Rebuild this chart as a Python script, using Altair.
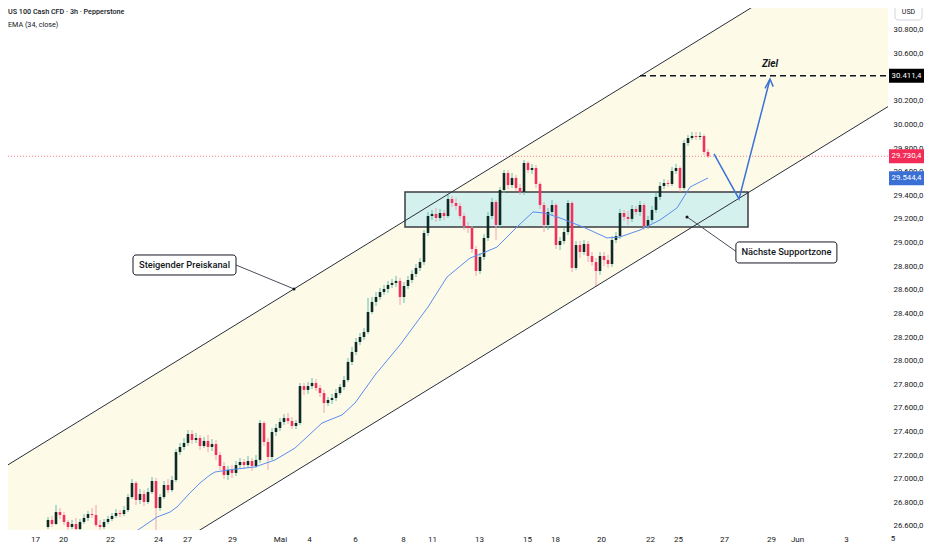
import altair as alt
import pandas as pd

FONT = "Roboto, sans-serif"
INK = "#131722"

# ---------- candles (3h bars, index = bar number) ----------
opens = [26591, 26651, 26617, 26718, 26693, 26634, 26591, 26617, 26574, 26634,
         26668, 26701, 26693, 26608, 26591, 26634, 26659, 26685, 26710, 26701,
         26735, 26845, 26964, 26820, 26871, 26803, 26888, 26981, 26752, 26845,
         26947, 26904, 26989, 27226, 27269, 27303, 27379, 27328, 27345, 27277,
         27320, 27269, 27294, 27201, 27108, 27032, 27074, 27049, 27116, 27142,
         27116, 27150, 27108, 27159, 27472, 27311, 27184, 27396, 27430, 27481,
         27514, 27489, 27447, 27472, 27785, 27752, 27785, 27811, 27768, 27726,
         27641, 27667, 27684, 27726, 27777, 27836, 27989, 28073, 28158, 28200,
         28243, 28412, 28497, 28539, 28581, 28607, 28641, 28658, 28675, 28539,
         28632, 28683, 28734, 28785, 28835, 29081, 29225, 29242, 29208, 29250,
         29225, 29369, 29335, 29310, 29225, 29140, 29123, 28945, 28759, 28878,
         29039, 29225, 29343, 29149, 29445, 29589, 29487, 29547, 29462, 29428,
         29674, 29614, 29631, 29496, 29318, 29149, 29259, 29318, 28979, 29013,
         29089, 29335, 28785, 28979, 28920, 28988, 28886, 28835, 28759, 28886,
         28852, 28818, 29022, 29055, 29250, 29217, 29200, 29284, 29259, 29318,
         29140, 29191, 29276, 29386, 29479, 29504, 29496, 29606, 29631, 29462,
         29843, 29885, 29902, 29894, 29902, 29767]
closes = [26651, 26617, 26718, 26693, 26634, 26591, 26617, 26574, 26634, 26668,
          26701, 26693, 26608, 26591, 26634, 26659, 26685, 26710, 26701, 26735,
          26845, 26964, 26820, 26871, 26803, 26888, 26981, 26752, 26845, 26947,
          26904, 26989, 27226, 27269, 27303, 27379, 27328, 27345, 27277, 27320,
          27269, 27294, 27201, 27108, 27032, 27074, 27049, 27116, 27142, 27116,
          27150, 27108, 27159, 27472, 27311, 27184, 27396, 27430, 27481, 27514,
          27489, 27447, 27472, 27785, 27752, 27785, 27811, 27768, 27726, 27641,
          27667, 27684, 27726, 27777, 27836, 27989, 28073, 28158, 28200, 28243,
          28412, 28497, 28539, 28581, 28607, 28641, 28658, 28675, 28539, 28632,
          28683, 28734, 28785, 28835, 29081, 29225, 29242, 29208, 29250, 29225,
          29369, 29335, 29310, 29225, 29140, 29123, 28945, 28759, 28878, 29039,
          29225, 29343, 29149, 29445, 29589, 29487, 29547, 29462, 29428, 29674,
          29614, 29631, 29496, 29318, 29149, 29259, 29318, 28979, 29013, 29089,
          29335, 28785, 28979, 28920, 28988, 28886, 28835, 28759, 28886, 28852,
          28818, 29022, 29055, 29250, 29217, 29200, 29284, 29259, 29318, 29140,
          29191, 29276, 29386, 29479, 29504, 29496, 29606, 29631, 29462, 29843,
          29885, 29902, 29894, 29902, 29767, 29730]
highs = [26676, 26685, 26778, 26752, 26718, 26651, 26651, 26668, 26659, 26701,
         26727, 26752, 26778, 26651, 26659, 26685, 26710, 26744, 26735, 26769,
         26871, 26998, 26981, 26913, 26904, 26922, 27015, 27006, 26871, 26981,
         26998, 27023, 27252, 27303, 27345, 27413, 27413, 27387, 27371, 27353,
         27371, 27336, 27328, 27226, 27142, 27108, 27116, 27150, 27175, 27167,
         27193, 27175, 27201, 27498, 27489, 27345, 27430, 27464, 27514, 27548,
         27557, 27523, 27498, 27811, 27811, 27819, 27853, 27845, 27794, 27752,
         27692, 27718, 27760, 27802, 27870, 28022, 28116, 28192, 28234, 28277,
         28531, 28539, 28581, 28615, 28641, 28675, 28691, 28717, 28700, 28666,
         28717, 28768, 28818, 28869, 29106, 29259, 29276, 29293, 29284, 29276,
         29403, 29394, 29377, 29335, 29250, 29174, 29140, 28971, 28911, 29072,
         29259, 29377, 29360, 29470, 29614, 29614, 29589, 29572, 29496, 29699,
         29691, 29665, 29657, 29513, 29343, 29293, 29360, 29335, 29047, 29123,
         29360, 29352, 29013, 29013, 29022, 29013, 28920, 28869, 28920, 28920,
         28895, 29055, 29089, 29284, 29276, 29267, 29318, 29310, 29352, 29335,
         29225, 29310, 29420, 29513, 29538, 29530, 29640, 29665, 29648, 29869,
         29911, 29936, 29936, 29936, 29919, 29792]
lows = [26574, 26591, 26608, 26659, 26608, 26566, 26574, 26549, 26557, 26617,
        26642, 26668, 26591, 26566, 26574, 26617, 26642, 26668, 26676, 26685,
        26718, 26828, 26778, 26786, 26769, 26786, 26871, 26566, 26727, 26828,
        26879, 26888, 26972, 27201, 27243, 27277, 27294, 27303, 27243, 27260,
        27226, 27235, 27159, 27074, 26998, 26989, 27006, 27023, 27091, 27083,
        27091, 27066, 27091, 27133, 27277, 27074, 27159, 27362, 27404, 27455,
        27464, 27421, 27421, 27455, 27709, 27718, 27760, 27743, 27692, 27557,
        27616, 27633, 27658, 27709, 27752, 27819, 27963, 28048, 28133, 28175,
        28226, 28395, 28463, 28514, 28556, 28573, 28615, 28624, 28471, 28488,
        28607, 28658, 28708, 28759, 28810, 29055, 29191, 29174, 29183, 29191,
        29208, 29301, 29276, 29200, 29106, 29081, 28911, 28717, 28734, 28852,
        29013, 29200, 29022, 29132, 29420, 29453, 29462, 29437, 29403, 29403,
        29589, 29581, 29462, 29284, 29089, 29106, 29233, 28945, 28937, 28988,
        29064, 28751, 28768, 28869, 28895, 28835, 28802, 28624, 28727, 28802,
        28785, 28793, 28996, 29030, 29183, 29149, 29174, 29233, 29225, 29106,
        29115, 29166, 29250, 29360, 29453, 29470, 29479, 29581, 29428, 29445,
        29818, 29869, 29869, 29869, 29741, 29716]

# ---------- EMA (34, close) ----------
ema_idx = [21.75, 27.25, 30.5, 32.25, 35.5, 38, 40.5, 41.75, 45, 51.75, 56.75,
           61.75, 68.5, 73.5, 76.75, 81.75, 88, 95, 99.75, 105.5, 108.75,
           112.25, 117.25, 121.25, 124.25, 128, 133.75, 139.75, 143, 148, 153,
           157.25, 160.5, 165]
ema_val = [26549, 26676, 26718, 26761, 26880, 26964, 27032, 27057, 27074,
           27100, 27159, 27260, 27472, 27540, 27641, 27878, 28133, 28454,
           28708, 28869, 28911, 28962, 29132, 29259, 29250, 29208, 29132,
           29039, 29047, 29106, 29191, 29293, 29470, 29547]

# ---------- axes ----------
date_pos = [-3.25, 3.75, 15.5, 27.5, 34.75, 46, 58, 65.25, 76.75, 88.75, 96,
            107.75, 119.75, 126.75, 138.25, 150.5, 157.5, 169, 180.75, 187.25,
            199.5]
date_lab = ["17", "20", "22", "24", "27", "29", "Mai", "4", "6", "8", "11", "13",
            "15", "18", "20", "22", "25", "27", "29", "Jun", "3"]
last_date_pos = 211.25
last_date_lab = "5"
# 30.400,0 sits fully under the 30.411,4 target tag in the original
price_ticks = [p for p in range(26600, 30801, 200) if p != 30400]
x_domain = [-10, 210]
y_domain = [26566, 30986]

# ---------- drawings ----------
chan_x = [-10, 210]
chan_upper = [27118, 31700]
chan_lower = [25566, 30151]
zone_x = [89.25, 175]
zone_y = [29428, 29132]
target_price = 30411.4
last_price = 29730.4
ema_last = 29544.4
target_x = [148, 210]
ziel_pos = [180.5, 30512]
arrow_x = [166.5, 172.75, 180.5]
arrow_y = [29750, 29369, 30385]
barb_x = [179.25, 180.5, 181.3]
barb_y = [30306, 30385, 30320]
kanal_box = [34.125, 28810]
kanal_line_x = [47, 61.5]
kanal_line_y = [28810, 28607]
support_box = [184.6, 28916]
support_line_x = [159.75, 172]
support_line_y = [29217, 28925]

# ---------- data frames ----------
candles = pd.DataFrame({"i": list(range(len(closes))), "open": opens,
                        "close": closes, "high": highs, "low": lows})
candles["dir"] = ["up" if c >= o else "down" for o, c in zip(opens, closes)]
ema_df = pd.DataFrame({"i": ema_idx, "v": ema_val})
chan_df = pd.DataFrame({"i": chan_x, "up": chan_upper, "lo": chan_lower})

xlabel_expr = "[" + ",".join("'%s'" % s for s in date_lab) + "][indexof([" + \
    ",".join(str(p) for p in date_pos) + "], datum.value)]"
ylabel_expr = ("replace(replace(replace(format(datum.value, ',.1f'), ',', 'X'), "
               "'.', ','), 'X', '.')")

XS = alt.Scale(domain=x_domain, nice=False, zero=False, padding=0)
YS = alt.Scale(domain=y_domain, nice=False, zero=False, padding=0)
XAX = alt.Axis(values=date_pos, labelExpr=xlabel_expr, grid=False, ticks=False,
               domain=False, labelPadding=5, labelFontSize=8, labelColor=INK,
               labelFont=FONT, labelOverlap=False, labelFlush=False, title=None)
YAX = alt.Axis(orient="right", values=price_ticks, labelExpr=ylabel_expr,
               grid=False, ticks=False, domain=False, labelPadding=5,
               labelFontSize=7.8, labelColor=INK, labelFont=FONT, labelAlign="left",
               labelOverlap=False, labelFlush=False, title=None)


def X(f):
    return alt.X(f, type="quantitative", scale=XS, axis=XAX)


def Y(f):
    return alt.Y(f, type="quantitative", scale=YS, axis=YAX)


one = pd.DataFrame({"a": [0]})

channel_area = alt.Chart(chan_df).mark_area(clip=True, color="#fdfbe8").encode(
    x=X("i"), y=Y("lo"), y2="up")
chan_up_line = alt.Chart(chan_df).mark_line(clip=True, color="#2a2e39", strokeWidth=1).encode(
    x=X("i"), y=Y("up"))
chan_lo_line = alt.Chart(chan_df).mark_line(clip=True, color="#2a2e39", strokeWidth=1).encode(
    x=X("i"), y=Y("lo"))

zone = alt.Chart(pd.DataFrame({"x": [zone_x[0]], "x2": [zone_x[1]],
                               "y": [zone_y[0]], "y2": [zone_y[1]]})).mark_rect(
    fill="#d5f1ee", stroke="#3b3d42", strokeWidth=1.5).encode(
    x=X("x"), x2="x2", y=Y("y"), y2="y2")

price_line = alt.Chart(pd.DataFrame({"x": [x_domain[0]], "x2": [x_domain[1]],
                                     "y": [last_price]})).mark_rule(
    color="#f4576b", strokeDash=[1, 2], strokeWidth=1, opacity=0.8).encode(
    x=X("x"), x2="x2", y=Y("y"))

color_wick = alt.Color("dir:N", scale=alt.Scale(domain=["up", "down"],
                                                 range=["#5fbfae", "#f5a0b2"]), legend=None)
color_body = alt.Color("dir:N", scale=alt.Scale(domain=["up", "down"],
                                                 range=["#0f2a26", "#f2305a"]), legend=None)

wicks = alt.Chart(candles).mark_rule(strokeWidth=1, clip=True).encode(
    x=X("i"), y=Y("low"), y2="high", color=color_wick)
bodies = alt.Chart(candles).mark_bar(size=2.6, clip=True).encode(
    x=X("i"), y=Y("open"), y2="close", fill=color_body)

ema = alt.Chart(ema_df).mark_line(color="#5b8def", strokeWidth=1, clip=True).encode(
    x=X("i"), y=Y("v"))

target = alt.Chart(pd.DataFrame({"x": [target_x[0]], "x2": [target_x[1]],
                                 "y": [target_price]})).mark_rule(
    color=INK, strokeDash=[6, 4], strokeWidth=1.5).encode(x=X("x"), x2="x2", y=Y("y"))
ziel = alt.Chart(pd.DataFrame({"x": [ziel_pos[0]], "y": [ziel_pos[1]], "t": ["Ziel"]})).mark_text(
    font=FONT, fontSize=10, fontStyle="italic", fontWeight="bold", color=INK,
    baseline="middle").encode(x=X("x"), y=Y("y"), text="t:N")

arrow = alt.Chart(pd.DataFrame({"x": arrow_x, "y": arrow_y, "o": [0, 1, 2]})).mark_line(
    color="#3c71d7", strokeWidth=1.5).encode(x=X("x"), y=Y("y"), order="o:Q")
barb = alt.Chart(pd.DataFrame({"x": barb_x, "y": barb_y, "o": [0, 1, 2]})).mark_line(
    color="#3c71d7", strokeWidth=1.5).encode(x=X("x"), y=Y("y"), order="o:Q")

k_line = alt.Chart(pd.DataFrame({"x": kanal_line_x, "y": kanal_line_y})).mark_line(
    color="#4a4e59", strokeWidth=1).encode(x=X("x"), y=Y("y"))
s_line = alt.Chart(pd.DataFrame({"x": support_line_x, "y": support_line_y})).mark_line(
    color="#4a4e59", strokeWidth=1).encode(x=X("x"), y=Y("y"))
dots = alt.Chart(pd.DataFrame({"x": [kanal_line_x[1], support_line_x[0]],
                               "y": [kanal_line_y[1], support_line_y[0]]})).mark_point(
    filled=True, color="#131722", size=9, opacity=1).encode(x=X("x"), y=Y("y"))

boxes_df = pd.DataFrame({"x": [kanal_box[0], support_box[0]],
                         "y": [kanal_box[1], support_box[1]],
                         "t": ["Steigender Preiskanal", "Nächste Supportzone"]})
kanal_rect = alt.Chart(boxes_df.iloc[[0]]).mark_rect(
    fill="white", stroke=INK, strokeWidth=1, cornerRadius=3,
    xOffset=-51.5, x2Offset=51.5, yOffset=-10, y2Offset=10).encode(
    x=X("x"), x2="x", y=Y("y"), y2="y")
support_rect = alt.Chart(boxes_df.iloc[[1]]).mark_rect(
    fill="white", stroke=INK, strokeWidth=1, cornerRadius=3,
    xOffset=-50.5, x2Offset=50.5, yOffset=-10.5, y2Offset=10.5).encode(
    x=X("x"), x2="x", y=Y("y"), y2="y")
box_text = alt.Chart(boxes_df).mark_text(
    font=FONT, fontSize=9.3, fontWeight=500, color=INK, baseline="middle").encode(
    x=X("x"), y=Y("y"), text="t:N")

last_date = alt.Chart(pd.DataFrame({"x": [last_date_pos], "t": [last_date_lab]})).mark_text(
    font=FONT, fontSize=8, color=INK, baseline="top").encode(
    x=X("x"), y=alt.value(527), text="t:N")

tags_df = pd.DataFrame({"y": [target_price, last_price, ema_last],
                        "t": ["30.411,4", "29.730,4", "29.544,4"],
                        "c": ["#000000", "#f22c57", "#3a6fd6"]})
tag_rect = alt.Chart(tags_df).mark_rect(yOffset=-7, y2Offset=7).encode(
    x=alt.value(881), x2=alt.value(916), y=Y("y"), y2="y",
    fill=alt.Fill("c:N", scale=None))
tag_text = alt.Chart(tags_df).mark_text(font=FONT, fontSize=7.8, color="white",
                                        baseline="middle").encode(
    x=alt.value(898.5), y=Y("y"), text="t:N")

usd_rect = alt.Chart(one).mark_rect(fill="white", stroke="#d1d4dc", strokeWidth=1,
                                    cornerRadius=3).encode(
    x=alt.value(887), x2=alt.value(914), y=alt.value(-4), y2=alt.value(12))
usd_text = alt.Chart(one).mark_text(font=FONT, fontSize=7, color=INK,
                                    baseline="middle").encode(
    x=alt.value(900.5), y=alt.value(4), text=alt.value("USD"))
title1 = alt.Chart(one).mark_text(font=FONT, fontSize=7.2, fontWeight=500, color=INK,
                                  align="left", baseline="middle").encode(
    x=alt.value(0), y=alt.value(4), text=alt.value("US 100 Cash CFD · 3h · Pepperstone"))
title2 = alt.Chart(one).mark_text(font=FONT, fontSize=7.2, color=INK,
                                  align="left", baseline="middle").encode(
    x=alt.value(0), y=alt.value(17), text=alt.value("EMA (34, close)"))

chart = alt.layer(
    channel_area, zone, price_line, wicks, bodies, ema, chan_up_line, chan_lo_line,
    target, ziel, arrow, barb, k_line, s_line, dots, kanal_rect, support_rect,
    box_text, last_date, tag_rect, tag_text, usd_rect, usd_text, title1, title2
).properties(
    width=880, height=522, background="white",
    autosize=alt.AutoSizeParams(type="none"),
    padding={"left": 0, "top": 0, "right": 36, "bottom": 12}
).configure_view(stroke=None)

chart.save("out.html", embed_options={"renderer": "svg", "actions": False})
